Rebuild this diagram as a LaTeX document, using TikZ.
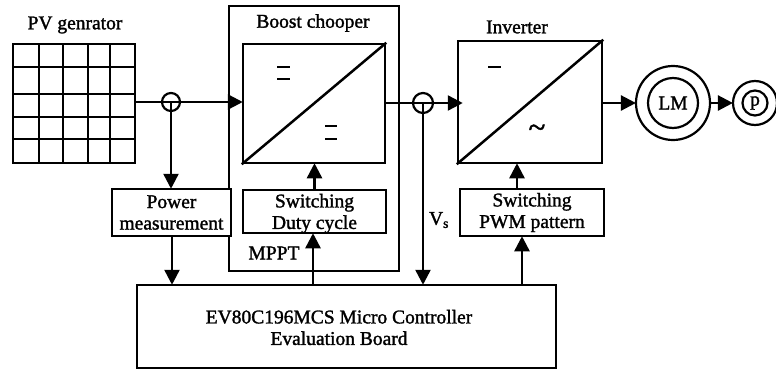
\documentclass[tikz,border=0pt]{standalone}
\usepackage{fontspec}
\setmainfont[FakeBold=1.5]{Liberation Serif}
\usetikzlibrary{arrows.meta}
\tikzset{
  x=1pt,y=-1pt,
  every path/.style={line width=2.5pt},
  txt/.style={font=\fontsize{19.5}{21.5}\selectfont,inner sep=0pt,align=center},
  blk/.style={draw,line width=2.5pt,inner sep=0pt,align=center,font=\fontsize{19.5}{21.5}\selectfont},
  conv/.style={draw,line width=2.5pt,inner sep=0pt},
  ring/.style={draw,circle,line width=2.2pt,inner sep=0pt},
  wire/.style={line width=2.5pt},
  arr/.style={line width=2.5pt,-{Triangle[length=15pt,width=15pt]},shorten >=-1pt},
  bar/.style={line width=2.5pt},
}
\begin{document}
\begin{tikzpicture}
\useasboundingbox (0,0) rectangle (776,370);
% PV generator
\node[conv,minimum width=122pt,minimum height=119pt] (pv) at (74,103.5) {};
\foreach \gx in {39,63,88,110} \draw[wire] (\gx,44) -- (\gx,163);
\foreach \gy in {67,94,117,139} \draw[wire] (13,\gy) -- (135,\gy);
\node[txt] (pvl) at (75,25) {PV genrator};
% Boost chopper enclosure
\node[conv,minimum width=170pt,minimum height=265pt] (outer) at (314,138.5) {};
\node[txt] (bl) at (313,23) {Boost chooper};
\node[conv,fill=white,minimum width=142pt,minimum height=119pt] (boost) at (314,103.5) {};
\draw[wire] (boost.south west) -- (boost.north east);
\coordinate (b1a) at (277,67); \coordinate (b1b) at (290,67);
\coordinate (b2a) at (277,79); \coordinate (b2b) at (290,79);
\coordinate (b3a) at (325,126); \coordinate (b3b) at (337,126);
\coordinate (b4a) at (325,139); \coordinate (b4b) at (337,139);
\draw[bar] (b1a) -- (b1b); \draw[bar] (b2a) -- (b2b);
\draw[bar] (b3a) -- (b3b); \draw[bar] (b4a) -- (b4b);
% Inverter
\node[conv,minimum width=144pt,minimum height=122pt] (inv) at (530,102) {};
\node[txt] (il) at (517,27) {Inverter};
\draw[wire] (inv.south west) -- (inv.north east);
\coordinate (i1a) at (488,67); \coordinate (i1b) at (501,67);
\draw[bar] (i1a) -- (i1b);
\node[txt,font=\fontsize{31}{31}\selectfont] (tilde) at (537,131) {\textasciitilde};
% Lower blocks
\node[blk,fill=white,minimum width=119pt,minimum height=47pt] (pm) at (171.5,212.5) {};
\node[txt] (pml) at (171.5,212.5) {Power\\measurement};
\node[blk,minimum width=143pt,minimum height=43pt] (duty) at (314.5,211.5) {};
\node[txt] (dutyl) at (314.5,213.5) {Switching\\Duty cycle};
\node[blk,minimum width=144pt,minimum height=47pt] (pwm) at (532,212.5) {};
\node[txt] (pwml) at (532,212.5) {Switching\\PWM pattern};
\node[blk,minimum width=419pt,minimum height=83pt] (mcu) at (346.5,326.5) {};
\node[txt] (mcul) at (339,327.5) {EV80C196MCS Micro Controller\\Evaluation Board};
\node[txt] (mppt) at (274,253) {MPPT};
\node[txt] (vs) at (439,220) {V$_{\mathrm{s}}$};
% Sensors
\node[ring,minimum size=18pt] (s1) at (171,102) {};
\node[ring,minimum size=20pt] (s2) at (423,103) {};
% Machines
\node[ring,minimum size=74pt] (im) at (673,103) {};
\node[ring,minimum size=50pt,txt,draw] (iml) at (673,103) {LM};
\node[ring,minimum size=44pt] (pu) at (755,103) {};
\node[ring,minimum size=25pt,txt,draw] (pul) at (755,103) {p};
% Connectors
\coordinate (boostin) at (boost.west |- s1);
\coordinate (invin) at ([xshift=5pt]inv.west |- s2);
\coordinate (s1c) at (s1.center);
\coordinate (s2c) at (s2.center);
\draw[arr] (pv.east |- s1) -- (boostin);
\draw[arr] (boost.east |- s2) -- (invin);
\draw[arr] (s1c) -- (pm.north -| s1c);
\draw[arr] ([xshift=0.5pt]pm.south) -- ([xshift=0.5pt]mcu.north -| pm.south);
\draw[arr] (duty.north) -- (boost.south -| duty.north);
\draw[arr] (mcu.north -| 313,0) -- (duty.south -| 313,0);
\draw[arr] (s2c) -- (mcu.north -| s2c);
\draw[arr] (pwm.north -| 517,0) -- (inv.south -| 517,0);
\draw[arr] (mcu.north -| 522,0) -- (pwm.south -| 522,0);
\draw[arr] (inv.east |- im) -- (im.west);
\draw[arr] (im.east) -- (pu.west);
\end{tikzpicture}
\end{document}
